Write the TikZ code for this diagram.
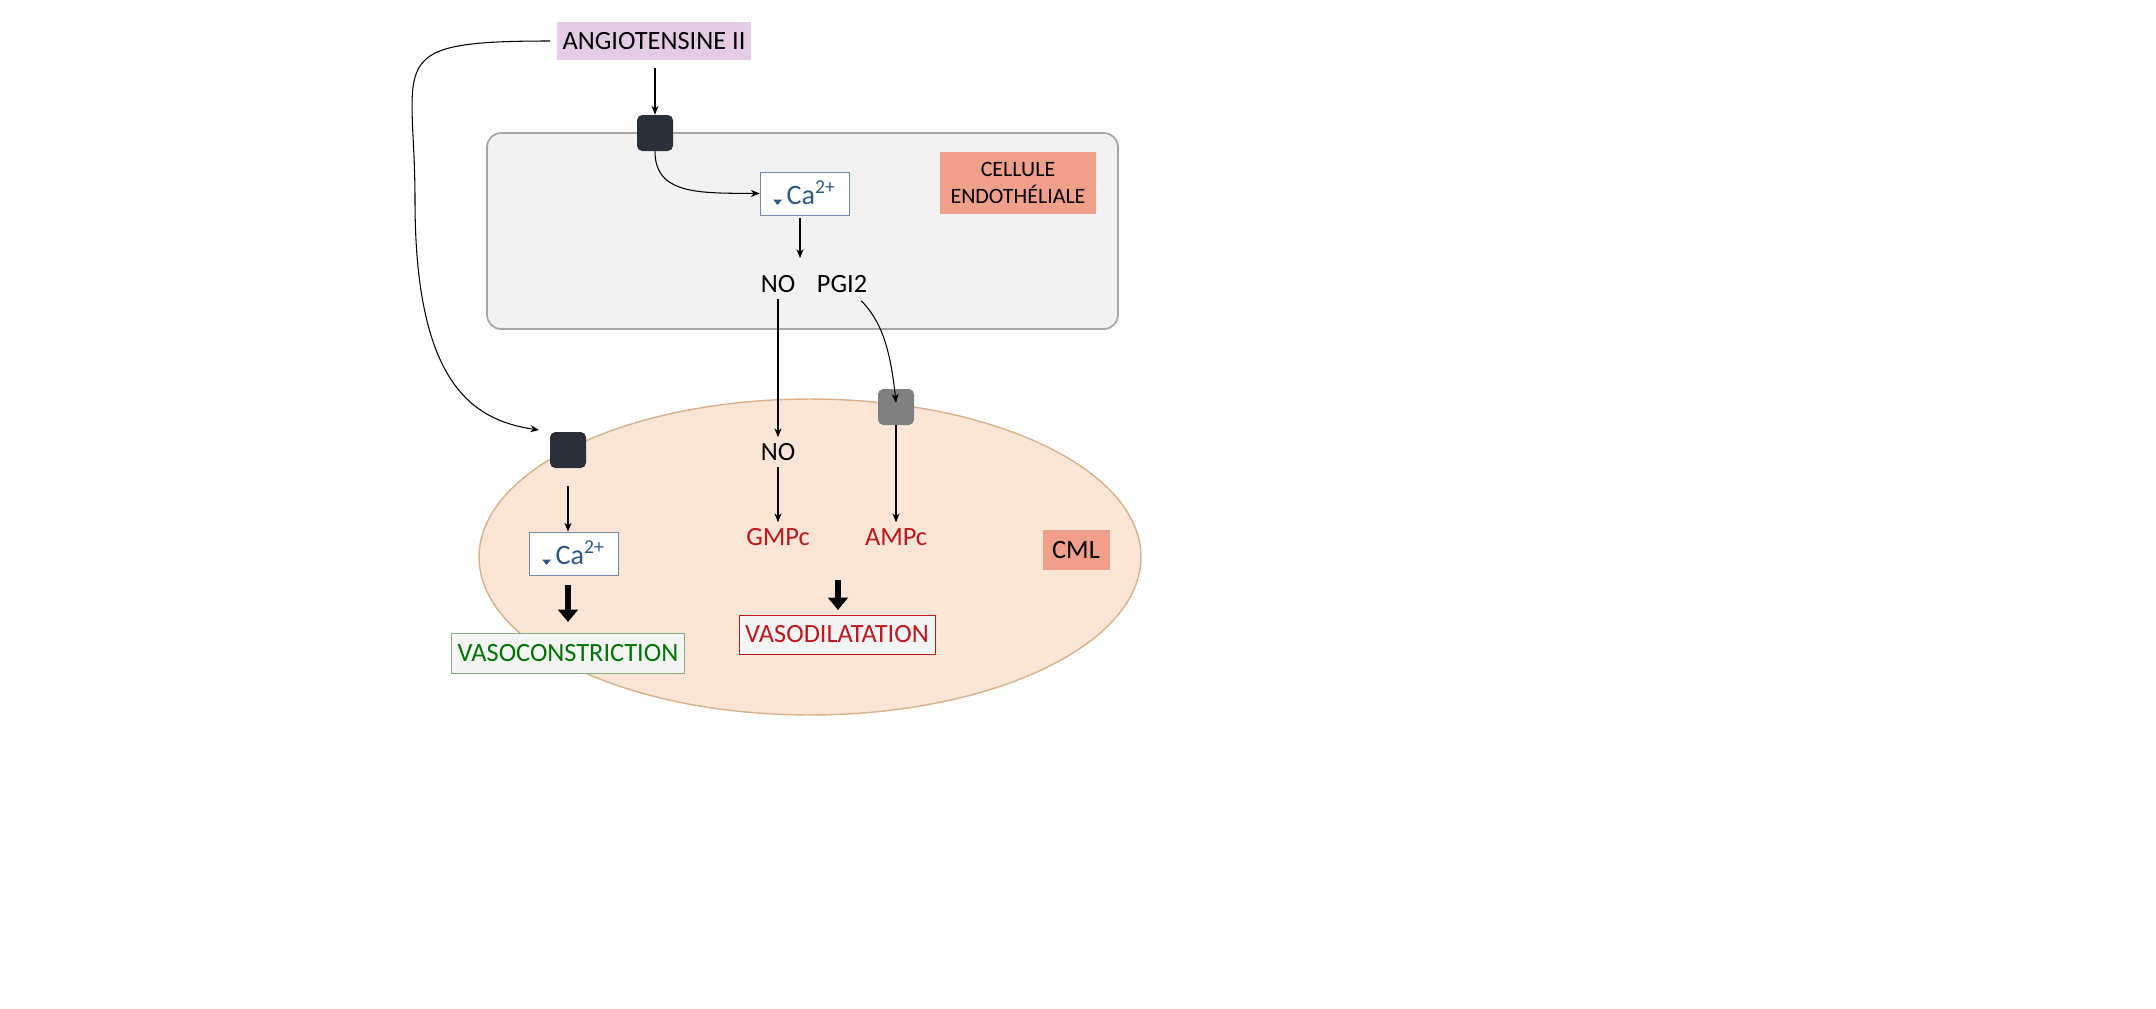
\documentclass[tikz,border=0pt]{standalone}
\usepackage{fontspec}
\setmainfont{Carlito}
\usetikzlibrary{arrows.meta,shapes.geometric}
\definecolor{salmon}{HTML}{F0A08A}
\definecolor{cablue}{HTML}{2F5A85}
\definecolor{redt}{HTML}{C0161C}
\definecolor{cmlfill}{HTML}{FBE5D6}
\newcommand{\uparr}{\tikz[baseline=0pt]\draw[-{Triangle[length=3pt,width=5pt]},line width=1.8pt,cablue] (0,0)--(0,0.36);}
\begin{document}
\begin{tikzpicture}[x=0.02cm,y=-0.02cm,
  lbl/.style={font=\fontsize{15}{17}\selectfont},
  rec/.style={draw=none,rounded corners=3pt,minimum size=0.72cm,inner sep=0},
  arr/.style={-{Stealth[length=5pt,width=4pt]},line width=0.6pt},
  big/.style={-{Triangle[length=7pt,width=11pt]},line width=3.5pt},
  cab/.style={draw=cablue!70,fill=white,minimum width=1.78cm,minimum height=0.86cm,inner sep=0,text=cablue,font=\fontsize{16}{18}\selectfont}]
\useasboundingbox (0,0) rectangle (2156,1008);
\node[draw=gray!70,line width=1pt,fill=gray!10,rounded corners=8pt,minimum width=12.62cm,minimum height=3.92cm] (endo) at (802.5,231) {};
\node[draw=brown!60,line width=0.8pt,fill=cmlfill,ellipse,minimum width=13.24cm,minimum height=6.32cm] (cml) at (810,557) {};
\node[fill=violet!20,minimum width=3.9cm,minimum height=0.76cm,lbl] (ang) at (654,41) {ANGIOTENSINE II};
\node[fill=salmon,minimum width=3.12cm,minimum height=1.24cm,align=center,font=\fontsize{12.5}{15}\selectfont] (ce) at (1018,183) {CELLULE\\ENDOTHÉLIALE};
\node[fill=salmon,minimum width=1.34cm,minimum height=0.8cm,lbl] (cmlb) at (1076,550) {CML};
\node[rec,fill={rgb,255:red,42;green,47;blue,58}] (r1) at (655,133) {};
\node[rec,fill={rgb,255:red,42;green,47;blue,58}] (r2) at (568,450) {};
\node[rec,fill=gray] (r3) at (896,407) {};
\node[cab] (ca1) at (804.5,193.5) {\uparr\,Ca\textsuperscript{2+}};
\node[cab] (ca2) at (573.5,553.5) {\uparr\,Ca\textsuperscript{2+}};
\node[lbl] (no1) at (778,284) {NO};
\node[lbl] (pgi) at (842,284) {PGI2};
\node[lbl] (no2) at (778,452) {NO};
\node[lbl,text=redt] (gmp) at (778,537) {GMPc};
\node[lbl,text=redt] (amp) at (896,537) {AMPc};
\node[draw=green!40!black!50,fill=green!5!gray!8,minimum width=4.6cm,minimum height=0.8cm,text=green!45!black,lbl] (vc) at (568,653) {VASOCONSTRICTION};
\node[draw=redt,fill=gray!8,minimum width=3.92cm,minimum height=0.78cm,text=redt,lbl] (vd) at (837,634.5) {VASODILATATION};
\draw[arr] (ang.south -| r1) ++(0,8) -- (r1.north);
\draw[arr] (r1.south) .. controls (655,195) and (700,193) .. (ca1.west);
\draw[arr] (ca1.south -| 800,0) ++(0,3) -- (800,258);
\draw[arr] (no1.south) -- (no2.north);
\draw[arr] (pgi.south east) ++(-12,2) .. controls (880,320) and (890,345) .. ([yshift=-8]r3.north);
\draw[arr] (ang.west) ++(-6,0) .. controls (380,41) and (415,60) .. (415,200) .. controls (415,380) and (470,420) .. ([xshift=-6]r2.west |- 0,430);
\draw[arr] (no2.south) -- (gmp.north);
\draw[arr] (r3.south) -- (amp.north);
\draw[arr] ([yshift=-10]r2.south) -- (ca2.north -| r2);
\draw[big] (568,585) -- (568,622);
\draw[big] (838,580) -- (838,610);
\end{tikzpicture}
\end{document}
